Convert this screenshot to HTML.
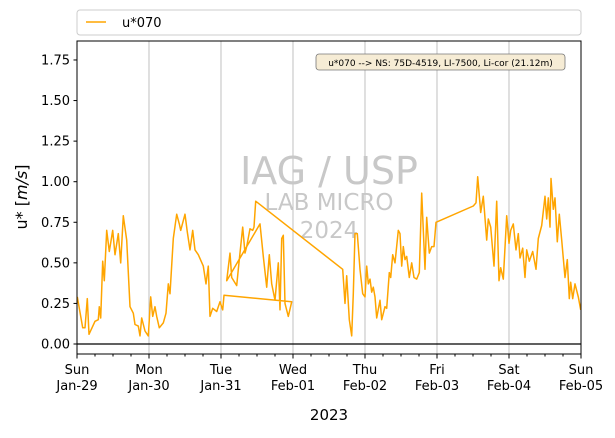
<!DOCTYPE html>
<html><head><meta charset="utf-8"><style>
body{margin:0;background:#fff;font-family:"DejaVu Sans","Liberation Sans",sans-serif;}
svg text{font-family:"DejaVu Sans","Liberation Sans",sans-serif;}
</style></head><body>
<svg id="chart" width="615" height="434" xmlns="http://www.w3.org/2000/svg">
<rect width="615" height="434" fill="#fff"/>
<g id="grid"></g>
<g fill="#c8c8c8" text-anchor="middle">
<text x="329" y="184" font-size="38">IAG / USP</text>
<text x="329" y="210" font-size="23">LAB MICRO</text>
<text x="329" y="238" font-size="23">2024</text>
</g>
<g id="marks"></g>
<g id="axes"></g>
<rect x="77" y="41" width="504" height="313" fill="none" stroke="#000" stroke-width="1"/>
<g>
<rect x="316" y="54" width="249" height="16" rx="3" fill="#f6ecd5" stroke="#777" stroke-width="0.8"/>
<text x="440.5" y="66" font-size="9" text-anchor="middle">u*070 --&gt; NS: 75D-4519, LI-7500, Li-cor (21.12m)</text>
</g>
<g>
<rect x="77" y="10" width="504" height="25" rx="3" fill="#fff" stroke="#ccc"/>
<line x1="86" y1="22" x2="106" y2="22" stroke="#ffa500" stroke-width="1.5"/>
<text x="122" y="27" font-size="13">u*070</text>
</g>
<text transform="translate(27,197) rotate(-90)" font-size="16" text-anchor="middle">u* [<tspan font-style="italic">m/s</tspan>]</text>
<text x="329" y="420" font-size="15" text-anchor="middle">2023</text>
</svg>
<script>
const dayLabels=["Sun","Mon","Tue","Wed","Thu","Fri","Sat","Sun"];
const dateLabels=["Jan-29","Jan-30","Jan-31","Feb-01","Feb-02","Feb-03","Feb-04","Feb-05"];
const yTicks=[0,0.25,0.5,0.75,1.0,1.25,1.5,1.75];
const tDays=[0.004,0.079,0.111,0.143,0.167,0.25,0.296,0.31,0.329,0.357,0.379,0.413,0.449,0.496,0.528,0.574,0.607,0.643,0.69,0.736,0.782,0.806,0.851,0.875,0.899,0.944,0.99,1.024,1.051,1.083,1.107,1.143,1.199,1.236,1.268,1.292,1.338,1.385,1.421,1.44,1.5,1.532,1.569,1.607,1.639,1.685,1.754,1.792,1.824,1.847,1.885,1.94,1.986,2.024,2.042,
2.982,2.935,2.889,2.865,2.843,2.819,2.796,2.75,2.704,2.671,2.635,2.588,2.542,2.079,2.125,2.149,2.218,2.24,2.301,2.333,2.357,2.403,2.44,2.458,2.482,
3.69,3.722,3.746,3.782,3.815,3.838,3.861,3.893,3.931,3.968,4.0,4.024,4.046,4.069,4.093,4.115,4.139,4.163,4.208,4.232,4.278,4.301,4.338,4.357,4.385,4.417,4.463,4.486,4.51,4.532,4.556,4.579,4.615,4.649,4.681,4.718,4.754,4.788,4.833,4.857,4.893,4.926,4.958,4.986,5.504,5.542,5.565,5.607,5.643,5.69,5.713,5.746,5.792,5.829,5.861,5.885,5.921,5.968,6.0,6.024,6.06,6.097,6.129,6.153,6.19,6.222,6.246,6.282,6.329,6.375,6.407,6.454,6.5,6.524,6.546,6.569,6.583,6.615,6.639,6.671,6.699,6.732,6.778,6.81,6.838,6.857,6.885,6.917,6.963,6.996];
const ustar=[0.29,0.10,0.10,0.28,0.06,0.14,0.15,0.23,0.16,0.51,0.39,0.70,0.57,0.70,0.55,0.68,0.50,0.79,0.64,0.23,0.19,0.12,0.11,0.05,0.16,0.08,0.05,0.29,0.17,0.23,0.17,0.10,0.13,0.19,0.37,0.31,0.65,0.80,0.74,0.70,0.80,0.69,0.58,0.70,0.58,0.55,0.48,0.37,0.48,0.17,0.22,0.20,0.26,0.21,0.30,
0.26,0.17,0.25,0.67,0.65,0.21,0.50,0.27,0.37,0.55,0.35,0.54,0.74,0.39,0.56,0.41,0.36,0.46,0.72,0.56,0.60,0.71,0.70,0.72,0.88,
0.46,0.25,0.42,0.15,0.05,0.31,0.68,0.68,0.46,0.31,0.29,0.48,0.37,0.40,0.32,0.35,0.29,0.16,0.27,0.15,0.23,0.22,0.44,0.41,0.55,0.50,0.70,0.68,0.48,0.60,0.52,0.54,0.41,0.50,0.41,0.40,0.44,0.93,0.46,0.78,0.56,0.60,0.60,0.75,0.85,0.87,1.03,0.81,0.91,0.64,0.77,0.72,0.48,0.88,0.39,0.47,0.40,0.79,0.62,0.70,0.74,0.58,0.68,0.53,0.59,0.41,0.58,0.51,0.57,0.46,0.65,0.73,0.91,0.77,0.90,0.72,1.02,0.83,0.90,0.63,0.80,0.64,0.41,0.52,0.28,0.38,0.28,0.37,0.29,0.21];
const X0=77,X1=581,DAYS=7;
function xs(d){return X0+(X1-X0)*d/DAYS;}
function ys(v){return 344-v*162.3;}
const NS="http://www.w3.org/2000/svg";
function mk(tag,attrs,parent){const e=document.createElementNS(NS,tag);for(const k in attrs)e.setAttribute(k,attrs[k]);parent.appendChild(e);return e;}
const grid=document.getElementById('grid'),axes=document.getElementById('axes'),marks=document.getElementById('marks');
for(let i=0;i<dayLabels.length;i++){
  const x=xs(i);
  if(i>0&&i<dayLabels.length-1){const g=mk('line',{x1:x,x2:x,y1:41,y2:354,stroke:'#b0b0b0','stroke-width':0.8},grid);
  
  }
  mk('line',{x1:x,x2:x,y1:354,y2:358.5,stroke:'#000'},axes);
  const t=mk('text',{x:x,y:374,'font-size':13,'text-anchor':'middle'},axes);
  
  
  t.innerHTML='<tspan x="'+x+'">'+dayLabels[i]+'</tspan><tspan x="'+x+'" dy="16">'+dateLabels[i]+'</tspan>';
}
for(let q=1;q<DAYS*4;q++){if(q%4===0)continue;const x=xs(q/4);mk('line',{x1:x,x2:x,y1:354,y2:356.5,stroke:'#000'},axes);}
yTicks.forEach(v=>{const y=ys(v);
  mk('line',{x1:73.5,x2:77,y1:y,y2:y,stroke:'#000'},axes);
  const t=mk('text',{x:70,y:y+4.5,'font-size':13,'text-anchor':'end'},axes);
  
  
  t.textContent=v.toFixed(2);});
const zl=mk('line',{x1:X0,x2:X1,y1:ys(0),y2:ys(0),stroke:'#000','stroke-width':1.2},grid);


const pts=tDays.map((d,i)=>xs(d).toFixed(1)+','+ys(ustar[i]).toFixed(1)).join(' ');
const pl=mk('polyline',{points:pts,fill:'none',stroke:'#ffa500','stroke-width':1.5,'stroke-linejoin':'round'},marks);


</script>
</body></html>
